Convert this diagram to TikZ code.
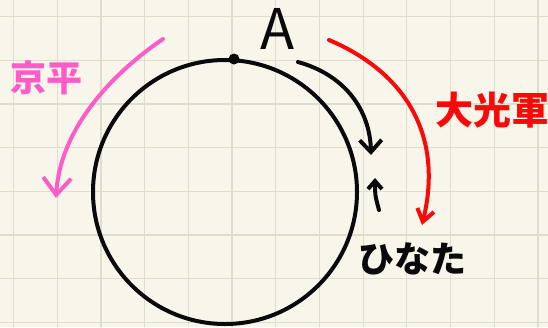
\documentclass[tikz,border=0pt]{standalone}
\usepackage{fontspec}
\newfontfamily\jpfont{Noto Sans CJK JP}
\usetikzlibrary{arrows.meta}
\definecolor{cSheet}{RGB}{248, 246, 235}
\definecolor{cGrid}{RGB}{222, 221, 208}
\definecolor{cKyohei}{RGB}{255, 92, 200}
\definecolor{cDaikou}{RGB}{252, 8, 8}
\definecolor{cInk}{RGB}{10, 10, 10}

\begin{document}
\begin{tikzpicture}[x=1pt, y=-1pt, line cap=round, line join=round]

  % ---- sheet + grid ----
  \fill[cSheet] (0,0) rectangle (548,327);
  \useasboundingbox (0,0) rectangle (548,327);
  \foreach \gx in {0,...,12}{
    \draw[cGrid, line width=1.2pt] ({13.5+43.7*\gx}, 0) -- ({13.5+43.7*\gx}, 327);
  }
  \foreach \gy in {0,...,7}{
    \draw[cGrid, line width=1.2pt] (0, {16.5+43.7*\gy}) -- (548, {16.5+43.7*\gy});
  }

  % ---- track (circle) + start point A ----
  \coordinate (ctr) at (225,192);
  \draw[cInk, line width=4pt] (ctr) circle (132);
  \fill[cInk] (234,59) circle (5.5) coordinate (ptA);
  \node[cInk, font=\jpfont\fontsize{56}{56}\selectfont] (lblA) at (278,29) {A};

  % ---- Kyohei: counter-clockwise (pink) ----
  \coordinate (kyS) at (163,39);
  \coordinate (kyE) at (56,198);
  \draw[cKyohei, line width=4pt, -{Straight Barb[length=17pt, width=28pt, line width=4pt]}]
    (kyS) .. controls (110,75) and (60,130) .. (kyE);
  \node[cKyohei, font=\jpfont\bfseries\fontsize{36}{36}\selectfont] (kyohei) at (46,78) {京平};

  % ---- Daikougun: clockwise, outer (red) ----
  \coordinate (dkS) at (329,40);
  \coordinate (dkE) at (422,225);
  \draw[cDaikou, line width=4pt, -{Straight Barb[length=12pt, width=17pt, line width=4pt]}]
    (dkS) .. controls (400,70) and (445,130) .. (dkE);
  \node[cDaikou, font=\jpfont\bfseries\fontsize{38}{38}\selectfont] (daikou) at (492,110) {大光軍};

  % ---- Hinata: clockwise, inner + short return (black) ----
  \coordinate (hnS) at (298,62);
  \coordinate (hnE) at (371,155);
  \draw[cInk, line width=4pt, -{Straight Barb[length=12pt, width=22pt, line width=4pt]}]
    (hnS) .. controls (345,75) and (370,110) .. (hnE);
  \coordinate (upS) at (379,210);
  \coordinate (upE) at (375,178);
  \draw[cInk, line width=4pt, -{Straight Barb[length=8pt, width=14pt, line width=4pt]}]
    (upS) .. controls (375,195) .. (upE);
  \node[cInk, font=\jpfont\bfseries\fontsize{36}{36}\selectfont] (hinata) at (412,259) {ひなた};

\end{tikzpicture}
\end{document}
